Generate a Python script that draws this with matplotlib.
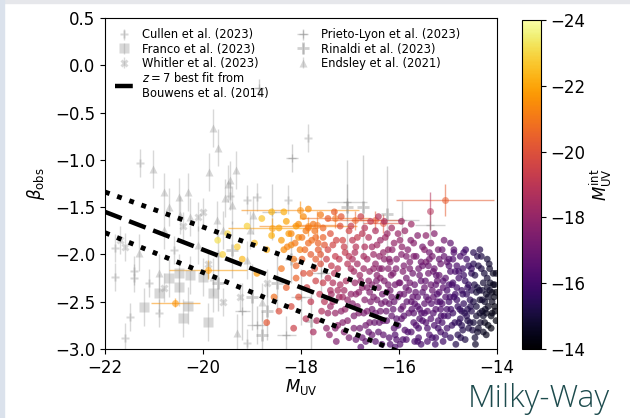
import numpy as np
import matplotlib.pyplot as plt
from matplotlib.patches import Rectangle

# ------------------------------------------------------------------
# Observed datasets (grey)
cullen_m = [-21.29, -17.86, -19.1, -18.9, -18.27, -21.4, -21.5, -21.6, -21.1, -21.8,
            -21.4, -21.8, -20.9, -19.1, -19.45, -20.6]
cullen_beta = [-1.03, -0.77, -1.42, -1.39, -1.42, -2.25, -2.66, -2.88, -2.3, -1.93,
               -2.17, -2.24, -2.62, -2.94, -1.38, -1.95]

franco_m = [-21.2, -20.9, -20.5, -20.3, -20.4, -19.9, -19.8, -20.5, -20.27, -20.0, -20.7]
franco_beta = [-2.56, -2.41, -2.34, -2.54, -2.67, -2.71, -2.41, -2.2, -2.22, -2.24, -2.25]

whitler_m = [-20.1, -21.6, -20.8, -19.25, -20.0, -21.7, -19.9, -19.6, -20.4, -18.7]
whitler_beta = [-1.6, -1.92, -2.35, -2.45, -1.55, -1.85, -2.1, -2.5, -1.7, -2.3]

prieto_m = [-18.18, -17.06, -15.37, -15.94, -18.86, -18.6, -17.6, -18.3, -19.2, -18.9, -18.0]
prieto_beta = [-0.98, -1.45, -1.69, -1.64, -0.24, -1.55, -2.2, -2.85, -2.6, -2.75, -2.45]
prieto_xerr = [0.12, 0.4, 0.3, 0.35, 0.1, 0.2, 0.2, 0.2, 0.15, 0.2, 0.2]
prieto_yerr = [0.15, 0.2, 0.15, 0.2, 0.1, 0.3, 0.3, 0.2, 0.3, 0.2, 0.3]

rinaldi_m = [-19.4, -19.0, -18.7, -18.5, -18.2, -19.7, -18.8, -17.06, -16.73, -16.24, -17.8]
rinaldi_beta = [-1.95, -2.45, -2.6, -2.3, -2.05, -2.3, -2.85, -1.5, -1.5, -1.57, -2.7]
rinaldi_yerr = [0.3, 0.35, 0.3, 0.3, 0.25, 0.3, 0.25, 0.5, 0.55, 0.5, 0.3]

endsley_m = [-19.8, -19.69, -21.02, -19.88, -19.33, -19.45, -20.8, -20.5, -20.3, -19.55,
             -19.4, -20.7, -20.47, -20.27, -19.71, -18.98, -19.6, -19.04, -20.8, -21.3,
             -20.9, -19.8, -19.3, -19.7, -19.1, -19.5, -20.1, -18.8]
endsley_beta = [-0.66, -0.87, -1.10, -1.13, -1.11, -1.21, -1.34, -1.39, -1.34, -1.40,
                -1.48, -1.50, -1.58, -1.60, -1.64, -1.58, -1.74, -1.74, -1.74, -1.98,
                -2.20, -2.24, -2.83, -1.98, -2.06, -1.25, -1.90, -2.50]

# Bouwens et al. (2014) z=7 relation and its envelope
fit_m = [-22, -16]
fit_beta = [-1.55, -2.75]
fit_upper = [-1.34, -2.45]
fit_lower = [-1.77, -3.03]

# Simulated galaxies coloured by intrinsic M_UV
sim_m = [
    -19.7, -19.5, -19.3, -19.1, -18.95, -18.8, -18.7, -18.6, -19.2, -18.9, -18.55, -18.7, -19.6, -18.6,
    -18.45, -18.4, -18.35, -18.3, -18.25, -18.2, -18.15, -18.1, -18.05, -18.4, -18.3, -18.2, -18.1,
    -18.02, -18.45, -18.15, -18.35, -18.05,
    -17.95, -17.9, -17.85, -17.8, -17.75, -17.7, -17.65, -17.6, -17.55, -17.52, -17.95, -17.88, -17.8,
    -17.7, -17.62, -17.58, -17.9, -17.75, -17.55, -17.98, -17.68, -17.85, -17.6, -17.72, -17.52,
    -17.45, -17.4, -17.35, -17.3, -17.25, -17.2, -17.15, -17.1, -17.05, -17.45, -17.4, -17.35, -17.3,
    -17.25, -17.2, -17.15, -17.1, -17.05, -17.42, -17.28, -17.12, -17.48, -17.38, -17.22, -17.08,
    -17.32, -17.18, -17.02, -17.45, -17.32, -17.12, -17.02,
    -16.98, -16.95, -16.9, -16.85, -16.8, -16.75, -16.7, -16.65, -16.6, -16.55, -16.95, -16.9, -16.85,
    -16.8, -16.75, -16.7, -16.65, -16.6, -16.55, -16.52, -16.98, -16.92, -16.88, -16.72, -16.68,
    -16.58, -16.62, -16.78, -16.82, -16.6, -16.72, -16.92, -16.55, -16.52, -16.78, -16.62, -16.88, -16.5,
    -16.48, -16.45, -16.4, -16.35, -16.3, -16.25, -16.2, -16.15, -16.1, -16.05, -16.48, -16.42, -16.38,
    -16.32, -16.28, -16.22, -16.18, -16.12, -16.08, -16.02, -16.45, -16.4, -16.35, -16.25, -16.2,
    -16.15, -16.1, -16.05, -16.3, -16.42, -16.12, -16.28, -16.18, -16.38, -16.05, -16.22, -16.48,
    -16.02, -16.32, -16.08, -16.45, -16.15,
    -15.98, -15.95, -15.9, -15.85, -15.8, -15.75, -15.7, -15.65, -15.6, -15.55, -15.98, -15.92, -15.88,
    -15.82, -15.78, -15.72, -15.68, -15.62, -15.58, -15.52, -15.95, -15.9, -15.85, -15.75, -15.7,
    -15.65, -15.6, -15.55, -15.52, -15.88, -15.62, -15.8, -15.72, -15.58, -15.68, -15.92, -15.78,
    -15.55, -15.98, -15.85, -15.62, -15.75, -15.52, -15.7, -15.95,
    -15.48, -15.45, -15.4, -15.35, -15.3, -15.25, -15.2, -15.15, -15.1, -15.05, -15.48, -15.42, -15.38,
    -15.32, -15.28, -15.22, -15.18, -15.12, -15.08, -15.02, -15.45, -15.4, -15.35, -15.3, -15.25,
    -15.2, -15.15, -15.1, -15.05, -15.48, -15.42, -15.28, -15.22, -15.12, -15.02, -15.38, -15.32,
    -15.18, -15.08, -15.45, -15.25, -15.15, -15.35, -15.02, -15.28,
    -14.98, -14.95, -14.9, -14.85, -14.8, -14.75, -14.7, -14.65, -14.6, -14.55, -14.98, -14.92, -14.88,
    -14.82, -14.78, -14.72, -14.68, -14.62, -14.58, -14.52, -14.95, -14.9, -14.85, -14.75, -14.7,
    -14.65, -14.6, -14.55, -14.8, -14.98, -14.72, -14.62, -14.52, -14.88, -14.78, -14.68, -14.58,
    -14.95, -14.82, -14.52,
    -14.48, -14.45, -14.4, -14.35, -14.3, -14.25, -14.2, -14.15, -14.1, -14.05, -14.48, -14.42, -14.38,
    -14.32, -14.28, -14.22, -14.18, -14.12, -14.08, -14.45, -14.4, -14.35, -14.3, -14.25, -14.2,
    -14.15, -14.1, -14.05, -14.42, -14.28, -14.18, -14.35, -14.02, -14.48, -14.22,
]
sim_beta = [
    -1.85, -1.78, -1.92, -1.70, -1.88, -1.62, -1.95, -1.80, -2.05, -2.20, -2.45, -2.72, -2.00, -1.55,
    -1.72, -1.85, -1.95, -1.65, -1.78, -1.90, -2.05, -1.70, -1.82, -2.15, -2.35, -2.55, -2.25,
    -1.95, -2.60, -2.78, -1.55, -2.45,
    -1.60, -1.75, -1.88, -2.00, -1.68, -1.82, -1.95, -2.10, -1.72, -1.90, -2.20, -2.35, -2.50,
    -2.28, -2.42, -2.60, -2.68, -2.82, -2.30, -2.05, -2.70, -1.52, -1.58, -2.15, -2.50,
    -1.62, -1.78, -1.90, -2.02, -2.15, -1.70, -1.85, -1.98, -2.10, -2.25, -2.38, -2.50, -2.62,
    -2.75, -2.32, -2.45, -2.58, -2.70, -2.85, -2.92, -2.82, -2.05, -2.12, -2.45, -2.28,
    -1.55, -1.60, -1.75, -2.62, -2.20, -2.38, -2.88,
    -1.70, -1.85, -1.98, -2.10, -2.22, -2.35, -2.48, -2.60, -2.72, -2.85, -2.05, -2.30, -2.55,
    -2.78, -1.78, -1.92, -2.05, -2.18, -2.32, -2.45, -2.42, -2.65, -2.90, -2.62, -2.92,
    -1.65, -1.82, -1.60, -2.40, -2.40, -2.15, -2.18, -2.58, -2.00, -2.98, -2.82, -1.92, -2.72,
    -1.75, -1.90, -2.02, -2.15, -2.28, -2.40, -2.52, -2.65, -2.78, -2.90, -2.10, -2.35, -2.60,
    -2.85, -1.82, -1.95, -2.08, -2.20, -2.32, -2.45, -2.48, -2.72, -2.95, -2.70, -2.88,
    -1.72, -1.88, -2.05, -1.65, -1.60, -2.58, -2.50, -2.38, -2.25, -2.68, -2.15, -2.92,
    -1.78, -1.98, -2.98, -2.22, -2.45,
    -1.85, -2.00, -2.12, -2.25, -2.38, -2.50, -2.62, -2.75, -2.88, -2.95, -2.30, -2.55, -2.80,
    -1.95, -2.08, -2.20, -2.32, -2.45, -2.58, -2.70, -2.68, -2.42, -2.90, -2.82, -1.88,
    -2.02, -2.15, -2.28, -2.40, -1.75, -1.80, -2.62, -2.45, -2.68, -2.92, -2.18, -2.30,
    -2.08, -2.95, -2.02, -2.55, -1.68, -1.92, -2.72, -1.65,
    -1.95, -2.08, -2.20, -2.32, -2.45, -2.58, -2.70, -2.82, -2.92, -2.25, -2.35, -2.60, -2.85,
    -2.02, -2.15, -2.28, -2.40, -2.52, -2.65, -2.78, -2.72, -2.48, -1.88, -2.62, -2.88,
    -1.95, -2.10, -2.35, -2.45, -2.52, -2.92, -2.75, -2.50, -2.72, -2.08, -2.05, -2.38,
    -2.22, -1.85, -1.80, -2.32, -2.58, -2.68, -2.58, -1.78,
    -2.05, -2.18, -2.30, -2.42, -2.55, -2.68, -2.80, -2.90, -2.35, -2.48, -2.50, -2.75, -1.95,
    -2.12, -2.25, -2.38, -2.52, -2.65, -2.78, -2.20, -2.88, -2.62, -2.18, -2.02, -2.15,
    -2.28, -2.58, -2.72, -2.85, -2.32, -2.60, -2.42, -2.60, -2.45, -2.72, -1.98, -2.12,
    -1.88, -2.35, -2.38,
    -2.10, -2.22, -2.35, -2.48, -2.60, -2.72, -2.25, -2.38, -2.50, -2.32, -2.50, -2.65, -2.78,
    -2.15, -2.30, -2.42, -2.55, -2.65, -2.20, -2.88, -2.02, -2.62, -2.38, -2.50, -2.05,
    -2.15, -2.40, -2.55, -2.40, -2.82, -2.75, -1.95, -2.40, -2.72, -2.62,
]
sim_mint = [
    -23.2, -23.0, -22.8, -22.9, -22.5, -22.6, -22.2, -22.3, -22.4, -21.8, -20.8, -20.2, -22.9, -22.4,
    -22.0, -21.8, -21.5, -22.0, -21.8, -21.4, -21.0, -21.8, -21.5, -20.9, -20.4, -19.8, -20.5,
    -21.2, -19.9, -19.4, -22.2, -20.0,
    -21.5, -21.1, -20.7, -20.3, -21.0, -20.7, -20.3, -19.9, -20.7, -20.2, -19.9, -19.5, -19.1,
    -19.5, -19.1, -18.7, -18.9, -18.5, -19.3, -20.5, -18.6, -21.5, -21.1, -19.9, -18.9,
    -20.4, -20.0, -19.6, -19.3, -19.0, -20.0, -19.6, -19.2, -18.9, -19.0, -18.6, -18.3, -18.1,
    -17.8, -18.6, -18.3, -18.0, -17.7, -17.8, -17.5, -17.5, -19.4, -19.2, -18.4, -18.6,
    -20.4, -20.2, -19.6, -18.2, -18.9, -18.4, -17.3,
    -19.3, -19.0, -18.7, -18.4, -18.2, -17.9, -17.7, -17.4, -17.2, -16.9, -18.6, -18.1, -17.6,
    -17.1, -19.0, -18.7, -18.3, -18.0, -17.7, -17.4, -17.9, -17.4, -16.9, -17.3, -16.7,
    -19.2, -18.8, -19.4, -17.8, -17.5, -18.2, -18.3, -17.1, -18.2, -16.6, -16.8, -18.9, -16.9,
    -18.6, -18.3, -18.0, -17.7, -17.5, -17.3, -17.0, -16.8, -16.6, -16.4, -17.9, -17.5, -17.1,
    -16.7, -18.3, -18.0, -17.7, -17.4, -17.2, -16.9, -17.3, -16.9, -16.5, -16.8, -16.5,
    -18.4, -18.0, -17.6, -18.6, -18.8, -16.8, -17.1, -17.2, -17.6, -16.6, -17.6, -16.6,
    -18.1, -18.0, -16.3, -17.7, -17.1,
    -18.0, -17.6, -17.4, -17.2, -17.0, -16.8, -16.6, -16.4, -16.2, -16.1, -17.3, -16.9, -16.5,
    -17.6, -17.4, -17.1, -16.9, -16.7, -16.5, -16.3, -16.7, -17.0, -16.4, -16.4, -17.7,
    -17.3, -17.1, -16.8, -16.6, -18.1, -17.6, -16.7, -16.8, -16.4, -16.2, -17.5, -17.1,
    -17.1, -16.4, -17.5, -16.5, -18.2, -17.3, -16.4, -18.3,
    -17.6, -17.3, -17.1, -16.9, -16.7, -16.5, -16.3, -16.1, -15.9, -16.6, -16.9, -16.6, -16.3,
    -17.3, -17.0, -16.8, -16.6, -16.4, -16.2, -16.0, -16.4, -16.7, -17.6, -16.4, -16.1,
    -17.3, -17.0, -16.6, -16.4, -16.7, -16.2, -16.2, -16.5, -16.1, -16.8, -17.2, -16.8,
    -16.8, -17.2, -17.8, -16.7, -16.3, -16.4, -16.1, -17.6,
    -16.5, -16.3, -16.1, -15.9, -15.7, -15.5, -15.3, -15.2, -15.7, -15.5, -16.0, -15.7, -16.6,
    -16.2, -16.0, -15.8, -15.6, -15.4, -15.2, -15.6, -15.6, -15.8, -16.1, -16.2, -15.9,
    -15.7, -15.4, -15.2, -15.4, -16.2, -15.5, -15.6, -15.3, -15.9, -15.5, -16.0, -15.7,
    -16.7, -16.0, -15.4,
    -15.4, -15.2, -15.0, -14.8, -14.7, -14.5, -14.9, -14.7, -14.5, -14.5, -15.1, -14.9, -14.8,
    -15.1, -14.9, -14.7, -14.5, -14.4, -14.6, -14.9, -15.3, -14.8, -14.9, -14.7, -15.0,
    -14.8, -14.5, -14.3, -15.0, -14.6, -14.4, -15.3, -14.3, -15.0, -14.5,
]

# more simulated galaxies filling the dense part of the cloud
extra_m = [
    -17.45, -17.38, -17.3, -17.22, -17.18, -17.12, -17.05, -16.98, -16.92, -16.85, -16.82, -16.78,
    -16.72, -16.68, -16.62, -16.58, -16.52, -17.4, -17.35, -17.28, -17.15, -17.02, -16.95, -16.88,
    -16.75, -16.65, -16.55, -17.48, -17.25, -16.7,
    -16.46, -16.42, -16.38, -16.34, -16.3, -16.26, -16.22, -16.18, -16.14, -16.1, -16.06, -16.02,
    -15.98, -15.94, -15.9, -15.86, -15.82, -15.78, -15.74, -15.7, -15.66, -15.62, -15.58, -15.54,
    -16.48, -16.4, -16.32, -16.24, -16.16, -16.08, -16.0, -15.92, -15.84, -15.76, -15.68, -15.6,
    -15.52, -16.36, -16.2, -15.96,
    -15.46, -15.42, -15.38, -15.34, -15.3, -15.26, -15.22, -15.18, -15.14, -15.1, -15.06, -15.02,
    -14.98, -14.94, -14.9, -14.86, -14.82, -14.78, -14.74, -14.7, -14.66, -14.62, -14.58, -14.54,
    -14.5, -15.48, -15.4, -15.32, -15.24, -15.16, -15.08, -15.0, -14.92, -14.84, -14.76, -14.68,
    -14.6, -14.52, -15.44, -15.2, -14.96, -14.72, -15.12, -14.88, -14.64,
    -14.46, -14.42, -14.38, -14.34, -14.3, -14.26, -14.22, -14.18, -14.14, -14.1, -14.06, -14.02,
    -14.44, -14.36, -14.28, -14.2, -14.12, -14.04, -14.48, -14.32, -14.16, -14.08, -14.4, -14.24,
    -14.02,
    -18.2, -18.12, -18.05, -17.98, -17.92, -17.85, -17.78, -17.72, -17.65, -17.6, -18.1, -17.82,
    -17.55, -18.28, -17.7,
]
extra_beta = [
    -1.95, -2.42, -2.78, -2.05, -2.60, -1.92, -2.48, -2.15, -2.78, -1.82, -2.62, -2.28,
    -2.02, -2.75, -2.28, -2.50, -2.15, -2.55, -2.30, -1.85, -2.72, -2.02, -2.52, -2.42,
    -2.88, -2.35, -1.92, -2.78, -2.38, -1.72,
    -2.28, -2.82, -1.85, -2.42, -2.05, -2.60, -2.32, -2.95, -1.95, -2.50, -2.15, -2.75,
    -2.42, -1.92, -2.65, -2.35, -2.82, -2.15, -2.58, -2.02, -2.40, -2.92, -2.22, -2.62,
    -2.62, -2.15, -2.70, -1.78, -2.22, -2.85, -2.30, -2.90, -2.50, -1.85, -2.52, -2.78,
    -2.12, -2.52, -2.05, -2.58,
    -2.28, -2.78, -1.98, -2.52, -2.18, -2.95, -2.42, -2.05, -2.65, -2.28, -2.85, -2.38,
    -2.12, -2.58, -2.05, -2.72, -2.48, -2.18, -2.88, -2.42, -2.62, -2.05, -2.32, -2.55,
    -2.80, -2.62, -2.12, -2.88, -2.22, -2.50, -2.02, -2.65, -2.32, -2.95, -2.58, -2.22,
    -2.70, -2.15, -2.45, -2.78, -2.45, -2.75, -1.95, -1.98, -1.95,
    -2.32, -2.55, -2.12, -2.72, -2.48, -2.20, -2.85, -2.45, -2.30, -2.62, -2.45, -2.20,
    -2.95, -2.38, -2.65, -2.35, -2.78, -2.60, -1.98, -2.02, -2.10, -2.32, -2.82, -2.58,
    -2.70,
    -1.78, -1.88, -1.68, -1.82, -1.95, -1.72, -1.85, -1.75, -1.88, -2.00, -2.12, -2.20,
    -1.82, -1.92, -2.05,
]
extra_mint = [
    -19.6, -18.4, -17.7, -19.1, -17.9, -19.3, -18.0, -18.5, -17.3, -19.2, -17.5, -18.0,
    -18.5, -17.1, -17.8, -17.4, -17.9, -18.2, -18.7, -19.6, -17.6, -18.9, -17.7, -17.8,
    -16.9, -17.6, -18.3, -17.9, -18.5, -18.9,
    -17.5, -16.7, -18.2, -17.2, -17.8, -16.9, -17.3, -16.4, -17.9, -16.9, -17.5, -16.5,
    -17.0, -17.8, -16.6, -17.0, -16.3, -17.3, -16.6, -17.4, -16.8, -16.1, -17.0, -16.4,
    -17.0, -17.7, -16.8, -18.2, -17.4, -16.4, -17.1, -16.2, -16.7, -17.6, -16.6, -16.2,
    -17.0, -17.1, -17.7, -16.7,
    -16.8, -16.2, -17.2, -16.5, -16.9, -15.9, -16.4, -16.9, -16.1, -16.5, -15.8, -16.2,
    -16.4, -15.9, -16.4, -15.6, -15.8, -16.0, -15.3, -15.7, -15.4, -15.9, -15.6, -15.3,
    -15.1, -16.4, -17.0, -16.0, -16.7, -16.2, -16.8, -15.9, -16.1, -15.3, -15.6, -15.8,
    -15.2, -15.6, -16.6, -16.0, -16.0, -15.4, -16.9, -16.4, -15.9,
    -15.2, -15.0, -15.2, -14.8, -14.9, -15.0, -14.5, -14.7, -14.7, -14.4, -14.4, -14.5,
    -14.8, -15.0, -14.7, -14.8, -14.3, -14.3, -15.4, -15.2, -14.9, -14.5, -14.8, -14.6,
    -14.2,
    -21.4, -21.1, -21.5, -21.0, -20.7, -21.1, -20.8, -20.9, -20.5, -20.2, -20.6, -20.1,
    -20.5, -21.3, -20.3,
]

# Simulated galaxies with large error bars
eb_m = [-18.02, -17.86, -17.68, -16.9, -16.49, -16.33, -15.06, -15.37, -20.57, -19.9, -18.6, -17.3]
eb_beta = [-1.53, -1.70, -1.69, -1.64, -1.64, -1.67, -1.42, -1.54, -2.51, -2.16, -1.72, -1.62]
eb_xerr = [1.2, 1.0, 0.5, 0.6, 0.5, 0.4, 1.0, 0.0, 0.5, 0.8, 0.9, 0.7]
eb_yerr = [0.1, 0.1, 0.15, 0.1, 0.1, 0.1, 0.17, 0.2, 0.05, 0.1, 0.1, 0.1]
eb_mint = [-21.5, -21.3, -21.0, -20.5, -20.2, -20.0, -20.3, -18.8, -21.6, -21.8, -21.8, -20.8]

# ------------------------------------------------------------------
fig = plt.figure(figsize=(6.3, 4.18), dpi=100)
ax = fig.add_axes([0.1667, 0.165, 0.6222, 0.792])
cax = fig.add_axes([0.829, 0.165, 0.029, 0.787])

grey = '0.62'
ga = 0.4
h_cullen = ax.errorbar(cullen_m, cullen_beta, yerr=0.15, fmt='P', color=grey, alpha=ga,
                       ms=6, mec='none', elinewidth=1)
h_franco = ax.errorbar(franco_m, franco_beta, yerr=0.2, fmt='s', color=grey, alpha=ga,
                       ms=6.5, mec='none', elinewidth=1)
h_whitler = ax.errorbar(whitler_m, whitler_beta, yerr=0.15, fmt='X', color=grey, alpha=ga,
                        ms=6, mec='none', elinewidth=1)
h_fit, = ax.plot(fit_m, fit_beta, 'k--', lw=3.2, dashes=(4, 1.8), zorder=5)
ax.plot(fit_m, fit_upper, 'k:', lw=3.5, zorder=5)
ax.plot(fit_m, fit_lower, 'k:', lw=3.5, zorder=5)
h_prieto = ax.errorbar(prieto_m, prieto_beta, xerr=prieto_xerr, yerr=prieto_yerr, fmt='+',
                       color='0.5', alpha=0.35, ms=6, elinewidth=1)
h_rinaldi = ax.errorbar(rinaldi_m, rinaldi_beta, yerr=rinaldi_yerr, fmt='+', color='0.55',
                        alpha=0.4, ms=8, mew=2, elinewidth=1)
h_endsley = ax.errorbar(endsley_m, endsley_beta, yerr=0.2, fmt='^', color=grey, alpha=ga,
                        ms=5.5, mec='none', elinewidth=1)

cmap = plt.get_cmap('inferno_r')
norm = plt.Normalize(-24, -14)
for m, b, xe, ye, c in zip(eb_m, eb_beta, eb_xerr, eb_yerr, eb_mint):
    ax.errorbar(m, b, xerr=xe, yerr=ye, fmt='o', color=cmap(norm(c)), alpha=0.55,
                ms=5, mec='none', elinewidth=1)
sc = ax.scatter(sim_m + extra_m, sim_beta + extra_beta, c=sim_mint + extra_mint,
                cmap=cmap, norm=norm, s=24, alpha=0.7, edgecolors='none', zorder=3)

ax.set_xlim(-22, -14)
ax.set_ylim(-3.0, 0.5)
ax.set_xticks(np.arange(-22, -13, 2))
ax.set_yticks(np.arange(-3.0, 0.51, 0.5))
ax.tick_params(labelsize=12)
ax.set_xlabel(r'$M_{\rm UV}$', fontsize=12, labelpad=0)
ax.set_ylabel(r'$\beta_{\rm obs}$', fontsize=12, labelpad=6)
handles = [h_cullen, h_franco, h_whitler, h_fit, h_prieto, h_rinaldi, h_endsley]
labels = ['Cullen et al. (2023)', 'Franco et al. (2023)', 'Whitler et al. (2023)',
          '$z = 7$ best fit from\nBouwens et al. (2014)', 'Prieto-Lyon et al. (2023)',
          'Rinaldi et al. (2023)', 'Endsley et al. (2021)']
ax.legend(handles, labels, loc='upper left', ncol=2, frameon=False, fontsize=8.3,
          handlelength=1.5, columnspacing=2.2, labelspacing=0.1, borderaxespad=0.5)

cb = fig.colorbar(sc, cax=cax)
cb.solids.set_alpha(1)
cax.invert_yaxis()
cb.set_ticks([-24, -22, -20, -18, -16, -14])
cax.tick_params(labelsize=12)
cb.set_label(r'$M_{\rm UV}^{\rm int}$', fontsize=12, labelpad=2)

# screenshot frame and watermark
fig.patches.append(Rectangle((0, 0.992), 1, 0.008, transform=fig.transFigure,
                             color='#e6e7eb', zorder=-1))
fig.patches.append(Rectangle((0, 0), 0.007, 1, transform=fig.transFigure,
                             color='#dbe2ec', zorder=-1))
fig.text(0.968, 0.027, 'Milky-Way', ha='right', va='baseline', fontsize=23,
         color='#1d4b4d', family='Open Sans', fontweight='light')

fig.savefig('out.png', dpi=100)
